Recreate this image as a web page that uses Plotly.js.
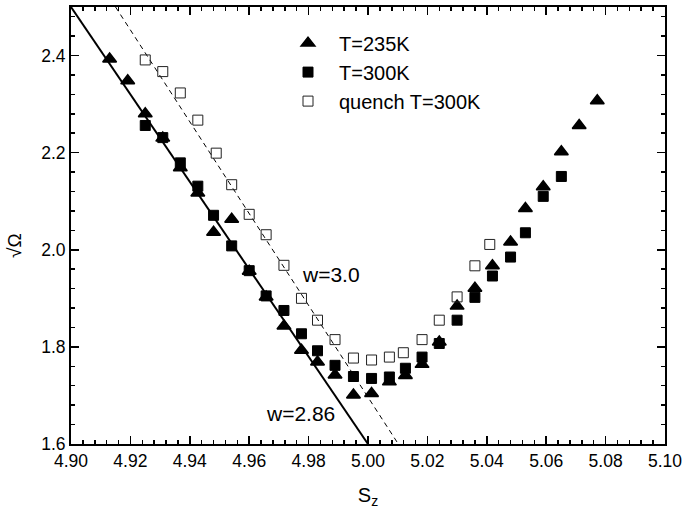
<!DOCTYPE html>
<html>
<head>
<meta charset="utf-8">
<script src="https://cdn.plot.ly/plotly-3.0.1.min.js"></script>
<style>html,body{margin:0;padding:0;background:#fff;}#chart{width:685px;height:512px;}</style>
</head>
<body>
<div id="chart"></div>
<script>
// Series: T=235K (filled triangles)
const x235 = [4.9130, 4.9191, 4.9250, 4.9309, 4.9368, 4.9427, 4.9480, 4.9541, 4.9600, 4.9657,
              4.9717, 4.9776, 4.9830, 4.9889, 4.9951, 5.0012, 5.0072, 5.0126, 5.0182, 5.0240,
              5.0300, 5.0360, 5.0419, 5.0480, 5.0530, 5.0590, 5.0651, 5.0711, 5.0772];
const y235 = [2.393, 2.348, 2.280, 2.230, 2.169, 2.117, 2.036, 2.063, 1.956, 1.903,
              1.843, 1.793, 1.769, 1.742, 1.701, 1.704, 1.728, 1.741, 1.764, 1.810,
              1.884, 1.921, 1.967, 2.016, 2.085, 2.130, 2.202, 2.256, 2.307];
// Series: T=300K (filled squares)
const x300 = [4.9250, 4.9309, 4.9368, 4.9427, 4.9480, 4.9541, 4.9600, 4.9657, 4.9717, 4.9776,
              4.9830, 4.9889, 4.9951, 5.0012, 5.0072, 5.0126, 5.0182, 5.0240, 5.0300, 5.0360,
              5.0419, 5.0480, 5.0530, 5.0590, 5.0651];
const y300 = [2.256, 2.231, 2.179, 2.131, 2.071, 2.008, 1.957, 1.905, 1.875, 1.827,
              1.792, 1.762, 1.739, 1.735, 1.738, 1.756, 1.779, 1.807, 1.855, 1.902,
              1.946, 1.985, 2.035, 2.110, 2.151];
// Series: quench T=300K (open squares)
const xQuench = [4.9250, 4.9309, 4.9368, 4.9427, 4.9489, 4.9541, 4.9600, 4.9657, 4.9717, 4.9776,
                 4.9830, 4.9889, 4.9951, 5.0012, 5.0072, 5.0119, 5.0182, 5.0240, 5.0300, 5.0360,
                 5.0410];
const yQuench = [2.391, 2.367, 2.323, 2.267, 2.199, 2.134, 2.073, 2.031, 1.968, 1.900,
                 1.855, 1.815, 1.777, 1.773, 1.779, 1.788, 1.815, 1.855, 1.903, 1.967,
                 2.011];
// Guide lines
const lineW286X = [4.900, 5.000];
const lineW286Y = [2.500, 1.600];
const lineW30X = [4.915, 5.0102];
const lineW30Y = [2.500, 1.600];
// Labels
const seriesNames = ['T=235K', 'T=300K', 'quench T=300K'];
const xTickVals = [4.90, 4.92, 4.94, 4.96, 4.98, 5.00, 5.02, 5.04, 5.06, 5.08, 5.10];
const yTickVals = [1.6, 1.8, 2.0, 2.2, 2.4];
const lineLabels = ['w=2.86', 'w=3.0'];
const lineLabelX = [4.9772, 4.9876];
const lineLabelY = [1.662, 1.949];
const yTitleText = '√Ω';
const xTitleText = 'S<sub>z</sub>';

const FONT = '"Liberation Sans", Arial, Helvetica, sans-serif';

const traces = [
  {x: lineW286X, y: lineW286Y, mode: 'lines', type: 'scatter', showlegend: false,
   line: {color: '#000', width: 2}, hoverinfo: 'skip'},
  {x: lineW30X, y: lineW30Y, mode: 'lines', type: 'scatter', showlegend: false,
   line: {color: '#000', width: 1, dash: '5px,4px'}, hoverinfo: 'skip'},
  {x: x235, y: y235, mode: 'markers', type: 'scatter', name: seriesNames[0],
   marker: {symbol: 'triangle-up', size: 12, color: '#000', line: {color: '#000', width: 1.5}}},
  {x: x300, y: y300, mode: 'markers', type: 'scatter', name: seriesNames[1],
   marker: {symbol: 'square', size: 10, color: '#000', line: {color: '#000', width: 1}}},
  {x: xQuench, y: yQuench, mode: 'markers', type: 'scatter', name: seriesNames[2],
   marker: {symbol: 'square-open', size: 10, color: '#222', line: {color: '#222', width: 1}}}
];

const axisCommon = {
  showline: true, linecolor: '#000', linewidth: 2, mirror: 'ticks',
  ticks: 'inside', ticklen: 8, tickwidth: 1.5, tickcolor: '#000',
  showgrid: false, zeroline: false,
  tickfont: {family: FONT, size: 17.5, color: '#000'}
};

const plotW = 685 - 71 - 20, plotH = 512 - 7 - 68;

const layout = {
  width: 685, height: 512,
  margin: {l: 71, r: 20, t: 7, b: 68},
  paper_bgcolor: '#fff', plot_bgcolor: '#fff',
  font: {family: FONT, color: '#000'},
  showlegend: true,
  legend: {x: (277 - 71) / plotW, y: 0.962, xanchor: 'left', yanchor: 'top', bgcolor: 'rgba(0,0,0,0)',
           itemwidth: 52,
           font: {family: FONT, size: 20, color: '#000'}, tracegroupgap: 0},
  xaxis: Object.assign({}, axisCommon, {
    range: [4.9, 5.1], tickvals: xTickVals, ticktext: xTickVals.map(v => v.toFixed(2)),
    minor: {dtick: 0.004, tick0: 4.9, ticks: 'inside', ticklen: 4, tickwidth: 1.5, tickcolor: '#000'},
    title: {text: xTitleText, font: {family: FONT, size: 20, color: '#000'}, standoff: 18}
  }),
  yaxis: Object.assign({}, axisCommon, {
    range: [1.6, 2.5], tickvals: yTickVals, ticktext: yTickVals.map(v => v.toFixed(1)),
    minor: {dtick: 0.04, tick0: 1.6, ticks: 'inside', ticklen: 4, tickwidth: 1.5, tickcolor: '#000'}
  }),
  annotations: lineLabels.map((t, i) => ({
    x: lineLabelX[i], y: lineLabelY[i], xref: 'x', yref: 'y', text: t, showarrow: false,
    xanchor: 'center', yanchor: 'middle', font: {family: FONT, size: 21, color: '#000'}
  })).concat([{
    x: (14 - 71) / plotW, y: (444 - 246) / plotH, xref: 'paper', yref: 'paper',
    text: yTitleText, showarrow: false,
    textangle: -90, xanchor: 'center', yanchor: 'middle',
    font: {family: FONT, size: 19, color: '#000'}
  }])
};

Plotly.newPlot('chart', traces, layout, {displayModeBar: false, staticPlot: true});
</script>
</body>
</html>
